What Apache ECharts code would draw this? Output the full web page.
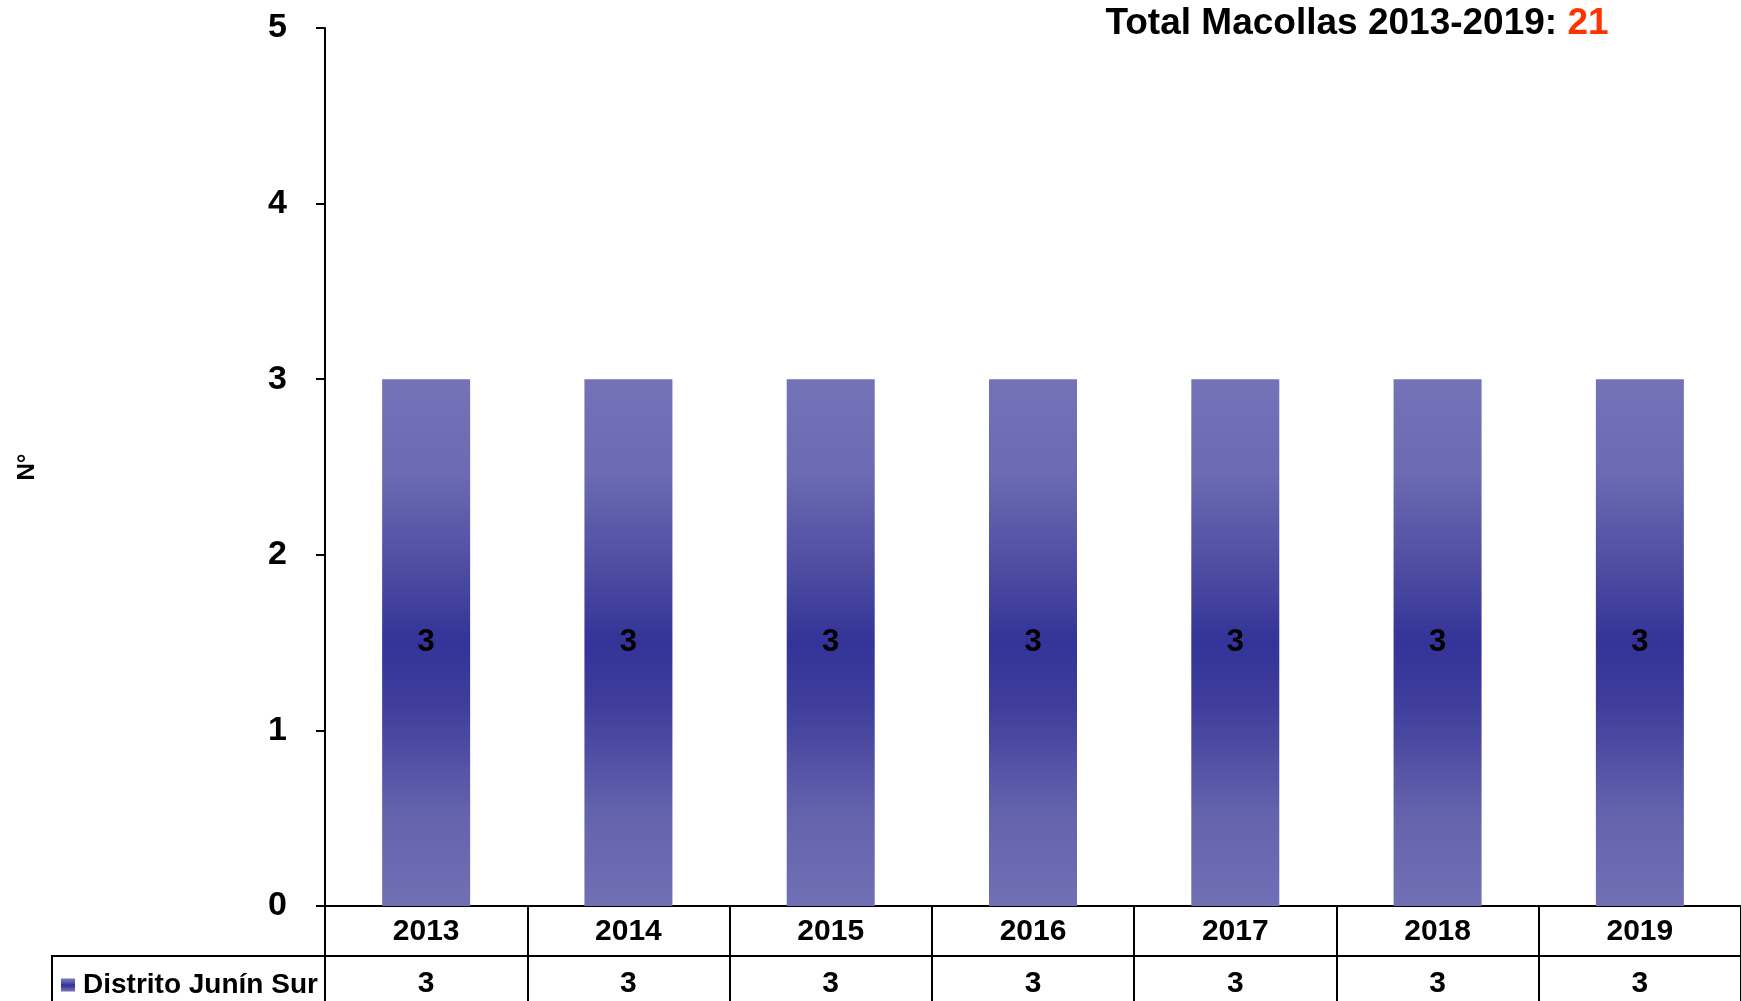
<!DOCTYPE html>
<html>
<head>
<meta charset="utf-8">
<style>
  html, body { margin: 0; padding: 0; background: #ffffff; }
  #chart { width: 1741px; height: 1001px; }
</style>
<script src="https://cdn.jsdelivr.net/npm/echarts@6/dist/echarts.min.js"></script>
</head>
<body>
<div id="chart"></div>
<script>
// Annual counts of macollas, Distrito Junín Sur
const years = ['2013', '2014', '2015', '2016', '2017', '2018', '2019'];
const seriesName = 'Distrito Junín Sur';
const counts = [3, 3, 3, 3, 3, 3, 3];
const yTicks = [0, 1, 2, 3, 4, 5];
const titlePrefix = 'Total Macollas 2013-2019: ';

const FONT = "'Liberation Sans', Arial, Helvetica, sans-serif";

// layout of the plot area and the data table beneath it
const W = 1741, H = 1001;
const gridLeft = 325, gridTop = 28, axisY = 906, rowH = 50, tableLeft = 52;

const total = counts.reduce((a, b) => a + b, 0);

const barGradient = new echarts.graphic.LinearGradient(0, 0, 0, 1, [
  { offset: 0.00, color: '#7473b8' },
  { offset: 0.18, color: '#6b6ab2' },
  { offset: 0.38, color: '#4a49a0' },
  { offset: 0.50, color: '#333399' },
  { offset: 0.62, color: '#3f3e9c' },
  { offset: 0.82, color: '#6362ac' },
  { offset: 1.00, color: '#7170b5' }
]);

const chart = echarts.init(document.getElementById('chart'), null, { renderer: 'canvas', width: W, height: H });

chart.setOption({
  animation: false,
  backgroundColor: '#ffffff',
  textStyle: { fontFamily: FONT },
  title: {
    left: 1357,
    top: 5,
    padding: 0,
    textAlign: 'center',
    text: titlePrefix + '{r|' + total + '}',
    textStyle: {
      fontFamily: FONT, fontWeight: 'bold', fontSize: 37, color: '#000000',
      rich: { r: { fontFamily: FONT, fontWeight: 'bold', fontSize: 37, color: '#ff3300' } }
    }
  },
  legend: {
    left: tableLeft + 9,
    top: axisY + rowH + 15,
    padding: 0,
    itemWidth: 14,
    itemHeight: 13,
    itemGap: 8,
    icon: 'rect',
    data: [seriesName],
    textStyle: { fontFamily: FONT, fontWeight: 'bold', fontSize: 28, color: '#000000', padding: [0, 0, 0, 3] }
  },
  grid: {
    left: gridLeft,
    right: 0,
    top: gridTop,
    bottom: H - axisY,
    containLabel: false
  },
  xAxis: [
    {
      type: 'category',
      data: years,
      position: 'bottom',
      axisLine: { show: true, lineStyle: { color: '#000000', width: 2 } },
      axisTick: { show: true, interval: 0, length: H - axisY, lineStyle: { color: '#000000', width: 2 } },
      axisLabel: { margin: 11, fontFamily: FONT, fontWeight: 'bold', fontSize: 30, color: '#000000' },
      splitLine: { show: false }
    },
    {
      // value row of the data table
      type: 'category',
      data: years,
      position: 'bottom',
      offset: rowH,
      axisLine: { show: true, lineStyle: { color: '#000000', width: 2 } },
      axisTick: { show: false },
      axisLabel: {
        margin: 13,
        fontFamily: FONT, fontWeight: 'bold', fontSize: 30, color: '#000000',
        formatter: (v, i) => String(counts[i])
      },
      splitLine: { show: false }
    }
  ],
  yAxis: {
    type: 'value',
    min: yTicks[0],
    max: yTicks[yTicks.length - 1],
    interval: 1,
    name: 'N°',
    nameLocation: 'middle',
    nameRotate: 90,
    nameGap: 286,
    nameTextStyle: { fontFamily: FONT, fontWeight: 'bold', fontSize: 24, color: '#000000' },
    axisLine: { show: true, lineStyle: { color: '#000000', width: 2 } },
    axisTick: { show: true, length: 9, lineStyle: { color: '#000000', width: 2 } },
    axisLabel: { margin: 38, fontFamily: FONT, fontWeight: 'bold', fontSize: 34, color: '#000000' },
    splitLine: { show: false }
  },
  graphic: [
    {
      // left cell border of the table's legend row
      type: 'polyline',
      silent: true,
      shape: { points: [[tableLeft, H + 2], [tableLeft, axisY + rowH], [gridLeft, axisY + rowH]] },
      style: { stroke: '#000000', lineWidth: 2, fill: null }
    }
  ],
  series: [
    {
      name: seriesName,
      type: 'bar',
      data: counts,
      barWidth: 88,
      itemStyle: { color: barGradient },
      label: {
        show: true,
        position: 'inside',
        fontFamily: FONT, fontWeight: 'bold', fontSize: 31, color: '#000000'
      }
    }
  ]
});
</script>
</body>
</html>
